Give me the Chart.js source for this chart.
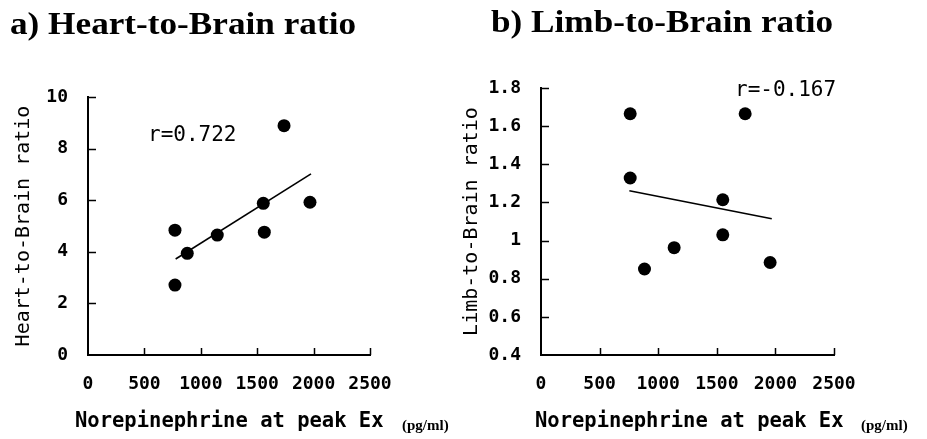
<!DOCTYPE html>
<html><head><meta charset="utf-8">
<script src="https://cdn.jsdelivr.net/npm/chart.js@4.4.1/dist/chart.umd.min.js"></script>
<style>
html,body{margin:0;padding:0;background:#fff;}
#wrap{position:relative;width:927px;height:439px;overflow:hidden;background:#fff;}
canvas{position:absolute;top:0;}
.t{position:absolute;white-space:nowrap;line-height:1;color:#000;}
.ptitle{font-family:"Liberation Serif","Times New Roman",serif;font-weight:bold;font-size:32px;transform:scaleX(1.1);transform-origin:0 0;}
.xt{font-family:"DejaVu Sans Mono",monospace;font-weight:bold;font-size:20.5px;}
.unit{font-family:"Liberation Serif",serif;font-weight:bold;font-size:15px;}
.r{font-family:"DejaVu Sans Mono",monospace;font-size:21px;}
</style></head><body>
<div id="wrap">
<canvas id="ca" width="440" height="439" style="left:0;width:440px;height:439px"></canvas>
<canvas id="cb" width="487" height="439" style="left:440px;width:487px;height:439px"></canvas>
<div class="t ptitle" style="left:10px;top:7px">a) Heart-to-Brain ratio</div>
<div class="t ptitle" style="left:491px;top:5px">b) Limb-to-Brain ratio</div>
<div class="t xt" style="left:75px;top:410px">Norepinephrine at peak Ex</div>
<div class="t unit" style="left:402px;top:418px">(pg/ml)</div>
<div class="t xt" style="left:535px;top:410px">Norepinephrine at peak Ex</div>
<div class="t unit" style="left:861px;top:418px">(pg/ml)</div>
<div class="t r" style="left:148px;top:124px">r=0.722</div>
<div class="t r" style="left:735px;top:79px">r=-0.167</div>
</div>
<script>
// ---- data ----
const xTickVals = [0, 500, 1000, 1500, 2000, 2500];
const heartNE    = [771, 771, 880, 1146, 1554, 1563, 1738, 1968];
const heartRatio = [4.84, 2.71, 3.94, 4.65, 5.88, 4.76, 8.89, 5.92];
const heartFitNE = [777, 1977];
const heartFitY  = [3.72, 7.02];
const heartYTicks = [0, 2, 4, 6, 8, 10];

const limbNE    = [761, 761, 883, 1136, 1551, 1551, 1742, 1955];
const limbRatio = [1.665, 1.328, 0.851, 0.963, 1.214, 1.030, 1.665, 0.885];
const limbFitNE = [754, 1969];
const limbFitY  = [1.261, 1.114];
const limbYTicks = [0.4, 0.6, 0.8, 1, 1.2, 1.4, 1.6, 1.8];

const heartYTitle = 'Heart-to-Brain ratio';
const limbYTitle  = 'Limb-to-Brain ratio';

Chart.defaults.font.family = '"DejaVu Sans Mono", monospace';
Chart.defaults.color = '#000';

const innerTicks = {
  id: 'innerTicks',
  afterDraw(chart) {
    const {ctx, chartArea: a, scales: {x, y}} = chart;
    ctx.save();
    ctx.strokeStyle = '#000';
    ctx.lineWidth = 1.5;
    ctx.beginPath();
    x.ticks.forEach(t => {
      if (t.value === x.min) return;
      const px = Math.round(x.getPixelForValue(t.value)) + 0.5;
      ctx.moveTo(px, a.bottom);
      ctx.lineTo(px, a.bottom - 7);
    });
    y.ticks.forEach(t => {
      if (t.value === y.min) return;
      const py = Math.round(y.getPixelForValue(t.value)) + 0.5;
      ctx.moveTo(a.left, py);
      ctx.lineTo(a.left + 8, py);
    });
    ctx.stroke();
    ctx.restore();
  }
};

function pts(xs, ys) { return xs.map((v, i) => ({x: v, y: ys[i]})); }

function makeChart(id, xs, ys, fx, fy, yTicks, yTitle, geo) {
  const yMin = yTicks[0], yMax = yTicks[yTicks.length - 1];
  return new Chart(document.getElementById(id), {
    type: 'scatter',
    data: {
      datasets: [
        {
          data: pts(xs, ys),
          backgroundColor: '#000',
          borderWidth: 0,
          pointRadius: 6.5,
          pointHoverRadius: 6.5,
          clip: false
        },
        {
          data: pts(fx, fy),
          showLine: true,
          borderColor: '#000',
          borderWidth: 1.6,
          pointRadius: 0,
          clip: false
        }
      ]
    },
    options: {
      responsive: false,
      devicePixelRatio: 1,
      animation: false,
      events: [],
      layout: {padding: {left: 0, top: geo.top, right: geo.right, bottom: 0}},
      plugins: {legend: {display: false}, tooltip: {enabled: false}, title: {display: false}},
      scales: {
        x: {
          type: 'linear',
          min: 0, max: 2500,
          afterBuildTicks: s => { s.ticks = xTickVals.map(v => ({value: v})); },
          afterFit: s => { s.height = geo.xh; },
          grid: {display: false, drawTicks: false, drawOnChartArea: false},
          border: {display: true, color: '#000', width: 2},
          ticks: {font: {size: 18, weight: 'bold'}, padding: 19, maxRotation: 0, autoSkip: false,
                  callback: v => String(v)}
        },
        y: {
          type: 'linear',
          min: yMin, max: yMax,
          afterBuildTicks: s => { s.ticks = yTicks.map(v => ({value: v})); },
          afterFit: s => { s.width = geo.yw; },
          grid: {display: false, drawTicks: false, drawOnChartArea: false},
          border: {display: true, color: '#000', width: 2},
          ticks: {font: {size: 18, weight: 'bold'}, padding: 20, autoSkip: false,
                  callback: v => String(Number(v.toFixed(1)))},
          title: {display: true, text: yTitle, font: {size: 20, weight: 'normal'},
                  padding: {top: geo.tpad, bottom: 0}}
        }
      }
    },
    plugins: [innerTicks]
  });
}

makeChart('ca', heartNE, heartRatio, heartFitNE, heartFitY, heartYTicks, heartYTitle,
  {top: 97, right: 70, xh: 84, yw: 88, tpad: 12});
makeChart('cb', limbNE, limbRatio, limbFitNE, limbFitY, limbYTicks, limbYTitle,
  {top: 88, right: 93, xh: 84, yw: 101, tpad: 20});
</script>
</body></html>
